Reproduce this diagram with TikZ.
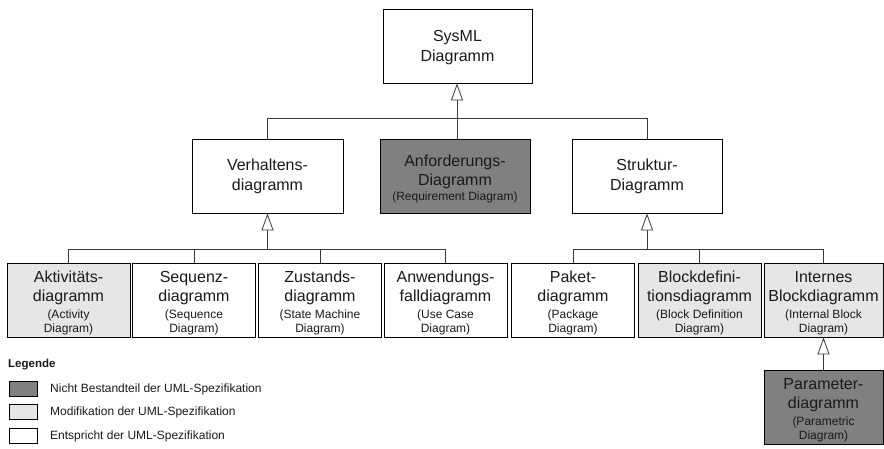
\documentclass[tikz,border=0pt]{standalone}
\usepackage{fontspec}
\setmainfont{Liberation Sans}
\usetikzlibrary{arrows.meta}

\definecolor{notuml}{HTML}{808080}
\definecolor{moduml}{HTML}{E6E6E6}
\definecolor{wirecol}{HTML}{3A3A3A}
\definecolor{inkcol}{HTML}{1A1A1A}

\tikzset{
  diag/.style={draw=black, line width=0.9pt, rectangle, inner sep=0pt, minimum height=74pt},
  widebox/.style={diag, minimum width=150pt},
  narrowbox/.style={diag, minimum width=123pt},
  plain/.style={fill=white},
  modified/.style={fill=moduml},
  added/.style={fill=notuml},
  bigtext/.style={font=\fontsize{16}{19.5}\selectfont, text=inkcol, align=center, inner sep=0pt},
  smalltext/.style={font=\fontsize{12}{14.5}\selectfont, text=inkcol, align=center, inner sep=0pt},
  wire/.style={draw=wirecol, line width=0.8pt},
  gen/.style={wire, -{Triangle[open, length=17pt, width=12pt, fill=white]}},
  swatch/.style={draw=black, line width=0.7pt, minimum width=28pt, minimum height=15pt, inner sep=0pt},
  legtext/.style={font=\fontsize{12}{14}\selectfont, text=inkcol, anchor=west, inner sep=0pt}
}

% box with two big lines and two small lines
% #1 name, #2 position, #3 fill style, #4/#5 main lines, #6/#7 English lines
\newcommand\lowbox[7]{%
  \node[narrowbox,#3] (#1) at (#2) {};
  \node[bigtext] (#1-t) at ([yshift=12pt]#1.center) {#4\\#5};
  \node[smalltext] (#1-s) at ([yshift=-22.5pt]#1.center) {#6\\#7};
}

\begin{document}
\begin{tikzpicture}[x=1pt, y=-1pt]
  \useasboundingbox (0,0) rectangle (884,448);

  % top level
  \node[widebox, plain, minimum width=149pt] (sysml) at (457.5,46) {};
  \node[bigtext] (sysml-t) at ([yshift=-1.5pt]sysml.center) {SysML\\Diagramm};

  % second level
  \node[widebox, plain, minimum width=151pt] (verh) at (267.5,176) {};
  \node[bigtext] (verh-t) at ([yshift=-0.5pt]verh.center) {Verhaltens-\\diagramm};

  \node[widebox, added] (anf) at (455,176) {};
  \node[bigtext] (anf-t) at ([yshift=4pt]anf.center) {Anforderungs-\\Diagramm};
  \node[smalltext] (anf-s) at ([yshift=-21.7pt]anf.center) {(Requirement Diagram)};

  \node[widebox, plain] (struk) at (647,176) {};
  \node[bigtext] (struk-t) at ([yshift=-0.5pt]struk.center) {Struktur-\\Diagramm};

  % third level: behaviour
  \lowbox{akt}{68.5,300}{modified}{Aktivitäts-}{diagramm}{(Activity}{Diagram)}
  \lowbox{seq}{194,300}{plain}{Sequenz-}{diagramm}{(Sequence}{Diagram)}
  \lowbox{zus}{320,300}{plain}{Zustands-}{diagramm}{(State Machine}{Diagram)}
  \lowbox{anw}{445.5,300}{plain}{Anwendungs-}{falldiagramm}{(Use Case}{Diagram)}

  % third level: structure
  \lowbox{pak}{573,300}{plain}{Paket-}{diagramm}{(Package}{Diagram)}
  \lowbox{blk}{699.5,300}{modified}{Blockdefini-}{tionsdiagramm}{(Block Definition}{Diagram)}
  \lowbox{ibd}{823.5,300}{modified, minimum width=119pt}{Internes}{Blockdiagramm}{(Internal Block}{Diagram)}

  % fourth level
  \lowbox{par}{823.5,407}{added, minimum width=119pt}{Parameter-}{diagramm}{(Parametric}{Diagram)}

  % generalisation trees
  \coordinate (jtop) at (457,118);
  \draw[wire] (verh.north) |- (jtop);
  \draw[wire] (struk.north) |- (jtop);
  \draw[wire] (jtop |- anf.north) -- (jtop);
  \draw[gen] (jtop) -- (sysml.south -| jtop);

  \coordinate (jbeh) at (267.5,249);
  \draw[wire] (akt.north) |- (jbeh);
  \draw[wire] (anw.north) |- (jbeh);
  \draw[wire] (seq.north) -- (seq.north |- jbeh);
  \draw[wire] (zus.north) -- (zus.north |- jbeh);
  \draw[gen] (jbeh) -- (verh.south);

  \coordinate (jstr) at (647,249);
  \draw[wire] (pak.north) |- (jstr);
  \draw[wire] (ibd.north) |- (jstr);
  \draw[wire] (blk.north) -- (blk.north |- jstr);
  \draw[gen] (jstr) -- (struk.south);

  \draw[gen] (par.north) -- (ibd.south);

  % legend
  \node[font=\bfseries\fontsize{11.5}{14}\selectfont, text=inkcol, anchor=west, inner sep=0pt] (leg) at (8,365) {Legende};
  \node[swatch, fill=notuml] (sw1) at (23,389) {};
  \node[legtext] (lt1) at (50,389) {Nicht Bestandteil der UML-Spezifikation};
  \node[swatch, fill=moduml] (sw2) at (23,412) {};
  \node[legtext] (lt2) at (50,412) {Modifikation der UML-Spezifikation};
  \node[swatch, fill=white] (sw3) at (23,436) {};
  \node[legtext] (lt3) at (50,436) {Entspricht der UML-Spezifikation};
\end{tikzpicture}
\end{document}
